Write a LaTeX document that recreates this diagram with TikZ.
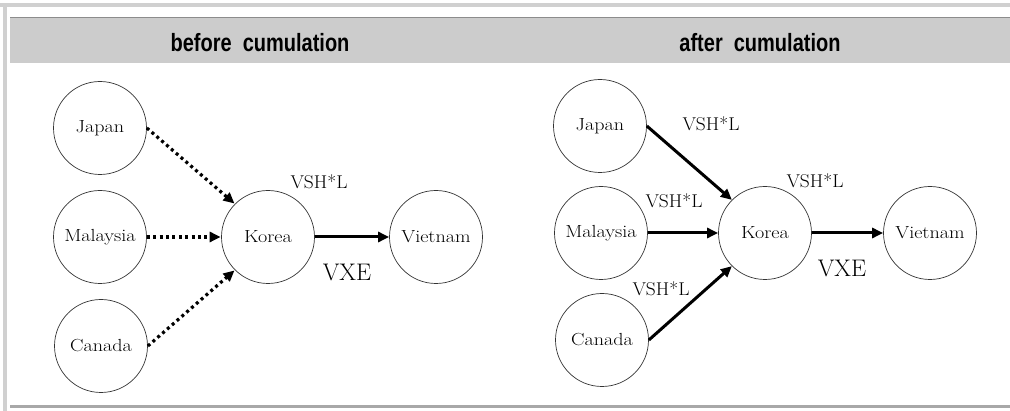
\documentclass[tikz,border=0pt]{standalone}
\usepackage{fontspec}
\usepackage{graphicx}
\usetikzlibrary{arrows.meta}
\newfontfamily\hdrfont[FakeStretch=0.8]{Liberation Sans}
\definecolor{hdrgray}{HTML}{CCCCCC}
\definecolor{framegray}{HTML}{D0D0D0}
\definecolor{linegray}{HTML}{A8A8A8}
\definecolor{topline}{HTML}{8C8C8C}
\newcommand{\ctext}[1]{\scalebox{1.15}[1]{\fontsize{17.5}{18}\selectfont #1}}
\tikzset{
  country/.style={circle, draw=black!80, line width=0.7pt, minimum size=93pt, inner sep=0pt},
  dotarrow/.style={line width=3.2pt, dash pattern=on 3pt off 3.4pt, -{Triangle[length=11pt,width=10pt]}, shorten >=0.5pt},
  solarrow/.style={line width=3pt, -{Triangle[length=11pt,width=10pt]}},
  vsh/.style={inner sep=0pt, font=\fontsize{18.5}{19}\selectfont},
  vxe/.style={inner sep=0pt, font=\fontsize{24}{25}\selectfont},
  hdr/.style={inner sep=0pt, anchor=base, font=\hdrfont\bfseries\fontsize{25}{26}\selectfont}
}
\begin{document}
\begin{tikzpicture}[x=1pt,y=-1pt]
\useasboundingbox (0,0) rectangle (1010,411);
% frame
\fill[white] (0,0) rectangle (1010,411);
\fill[framegray] (0,3) rectangle (1010,7);
\fill[framegray] (3,3) rectangle (7,411);
\fill[hdrgray] (10,17.5) rectangle (1010,63);
\draw[topline, line width=0.8pt] (10,17.8) -- (1010,17.8);
\fill[linegray] (10,405.5) rectangle (1010,408);
% headers
\node[hdr] (h1) at (260,52) {before\ \ cumulation};
\node[hdr] (h2) at (760,52) {after\ \ cumulation};
% left panel
\node[country] (jp1) at (100,128) {\ctext{Japan}};
\node[country] (my1) at (100,237) {\ctext{Malaysia}};
\node[country] (ca1) at (101,346) {\ctext{Canada}};
\node[country] (kr1) at (268,237) {\ctext{Korea}};
\node[country] (vn1) at (436,237) {\ctext{Vietnam}};
\draw[dotarrow] (jp1.east) -- (kr1.135);
\draw[dotarrow] (my1.east) -- (kr1.west);
\draw[dotarrow] (ca1.east) -- (kr1.225);
\draw[solarrow] (kr1.east) -- (vn1.west);
\node[vsh] (l1) at (319,182) {\scalebox{1.05}[1]{VSH*L}};
\node[vxe] (x1) at (347,272) {VXE};
% right panel
\node[country] (jp2) at (600,126) {\ctext{Japan}};
\node[country] (my2) at (601,233) {\ctext{Malaysia}};
\node[country] (ca2) at (602,340) {\ctext{Canada}};
\node[country] (kr2) at (765,233) {\ctext{Korea}};
\node[country] (vn2) at (930,233) {\ctext{Vietnam}};
\draw[solarrow] (jp2.east) -- (kr2.135);
\draw[solarrow] (my2.east) -- (kr2.west);
\draw[solarrow] (ca2.east) -- (kr2.225);
\draw[solarrow] (kr2.east) -- (vn2.west);
\node[vsh] (l2) at (711,124) {\scalebox{1.05}[1]{VSH*L}};
\node[vsh] (l3) at (815,181) {\scalebox{1.05}[1]{VSH*L}};
\node[vsh] (l4) at (674,201) {\scalebox{1.05}[1]{VSH*L}};
\node[vsh] (l5) at (661,289) {\scalebox{1.05}[1]{VSH*L}};
\node[vxe] (x2) at (842,268) {VXE};
\end{tikzpicture}
\end{document}
